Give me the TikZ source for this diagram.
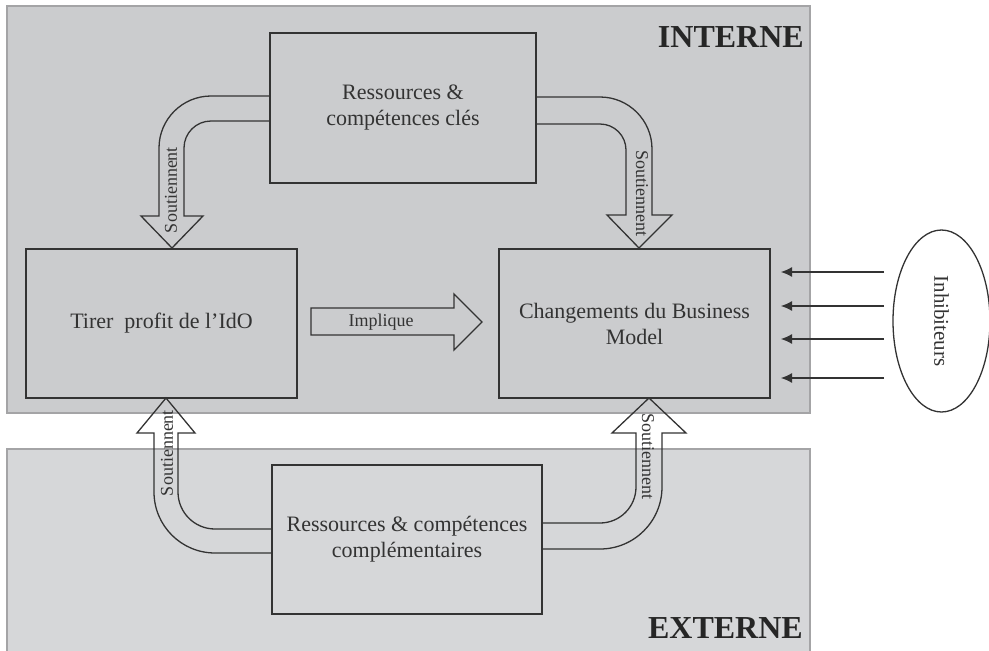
\documentclass[tikz,border=0pt]{standalone}
\usepackage{fontspec}
\setmainfont{Liberation Serif}
\usetikzlibrary{arrows.meta,shapes.geometric}
\definecolor{panelin}{HTML}{CBCCCE}
\definecolor{panelex}{HTML}{D6D7D9}
\definecolor{panelline}{HTML}{A4A4A6}
\definecolor{ink}{HTML}{333333}
\begin{document}
\begin{tikzpicture}[x=1pt,y=-1pt,
  panel/.style={draw=panelline,line width=1.2pt},
  box/.style={draw=ink,line width=1.6pt,inner sep=0pt,align=center,text=ink,
    font=\fontsize{22}{26}\selectfont},
  bigarrow/.style={draw=ink,line width=1.3pt,line join=miter},
  lab/.style={text=ink,inner sep=0pt,font=\fontsize{18}{21}\selectfont},
  panellab/.style={text=black!85,inner sep=0pt,font=\fontsize{32}{36}\selectfont\bfseries},
  inhib/.style={draw=ink,line width=1.1pt,-{Latex[length=11pt,width=10pt]}}]
\useasboundingbox (0,0) rectangle (989,651);
% panels
\path[panel,fill=panelin] (7,6) rectangle (810,413);
\path[panel,fill=panelex] (7,449) rectangle (810,655);
\node[panellab,anchor=base east] (interne) at (804,47) {INTERNE};
\node[panellab,anchor=base east] (externe) at (803,638) {EXTERNE};
% boxes
\node[box,minimum width=266pt,minimum height=150pt] (rck) at (403,108) {Ressources \&\\compétences clés};
\node[box,minimum width=271pt,minimum height=149pt] (ido) at (161.5,323.5) {Tirer\ \ profit de l’IdO};
\node[box,minimum width=271pt,minimum height=149pt] (bm) at (634.5,323.5) {Changements du Business\\Model};
\node[box,minimum width=270pt,minimum height=149pt] (rcc) at (407,539.5) {Ressources \& compétences\\complémentaires};
% top-left arrow
\draw[bigarrow] (270,96) -- (211,96) arc[start angle=270,end angle=180,radius=52]
  -- (159,216) -- (141,216) -- (172,248) -- (203,216) -- (184,216) -- (184,148)
  arc[start angle=180,end angle=270,radius=27] -- (270,121);
% top-right arrow
\draw[bigarrow] (536,97) -- (600,97) arc[start angle=270,end angle=360,radius=52]
  -- (652,215) -- (672,215) -- (639,248) -- (607,215) -- (626,215) -- (626,150)
  arc[start angle=0,end angle=-90,radius=26] -- (536,124);
% bottom-left arrow
\draw[bigarrow] (272,553) -- (215,553) arc[start angle=90,end angle=180,radius=61]
  -- (154,433) -- (137,433) -- (166,398) -- (195,433) -- (178,433) -- (178,492)
  arc[start angle=180,end angle=90,radius=37] -- (272,529);
% bottom-right arrow
\draw[bigarrow] (542,549) -- (600,549) arc[start angle=90,end angle=0,radius=62]
  -- (662,433) -- (686,433) -- (649,398) -- (612,433) -- (636,433) -- (636,487)
  arc[start angle=0,end angle=90,radius=36] -- (542,523);
% middle arrow
\draw[bigarrow] (311,308) -- (454,308) -- (454,294) -- (482,322) -- (454,350) -- (454,335) -- (311,335) -- cycle;
\node[lab] (impl) at (381,322) {Implique};
% labels on curved arrows
\node[lab,rotate=90] (s1) at (171,190) {Soutiennent};
\node[lab,rotate=-90] (s2) at (642,193) {Soutiennent};
\node[lab,rotate=90] (s3) at (167,453) {Soutiennent};
\node[lab,rotate=-90] (s4) at (648,456) {Soutiennent};
% inhibitors
\node[draw=ink,line width=1.3pt,ellipse,minimum width=97pt,minimum height=182pt,inner sep=0pt] (inh) at (941.5,321) {};
\node[text=ink,rotate=-90,inner sep=0pt,font=\fontsize{21}{25}\selectfont] (inhlab) at (941.5,321) {Inhibiteurs};
\foreach \yy/\nm in {272/a,306/b,339/c,378/d}{
  \coordinate (st\nm) at (884,\yy);
  \coordinate (en\nm) at (781,\yy);
  \draw[inhib] (st\nm) -- (en\nm);
}
\end{tikzpicture}
\end{document}
